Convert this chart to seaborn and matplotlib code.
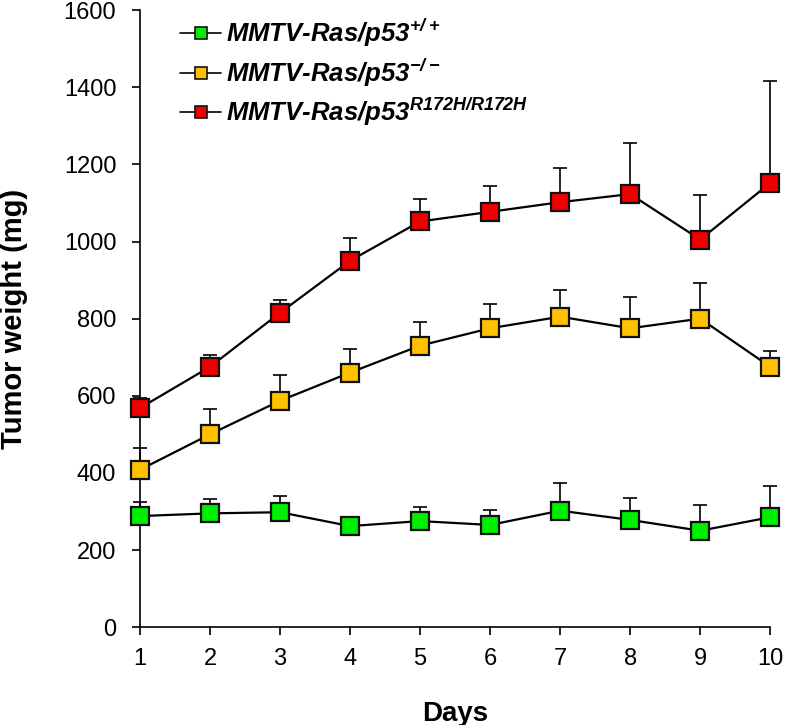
import numpy as np
import pandas as pd
import matplotlib
matplotlib.use('Agg')
import matplotlib.pyplot as plt
import seaborn as sns

days = [1, 2, 3, 4, 5, 6, 7, 8, 9, 10]

# mean tumor weight (mg) and upper error bar (SD) per group
wt_mean = [288, 295, 298, 262, 275, 265, 302, 278, 250, 285]
wt_err = [37, 38, 42, 8, 37, 38, 73, 57, 66, 80]
null_mean = [408, 500, 587, 660, 730, 775, 805, 775, 800, 675]
null_err = [57, 65, 68, 60, 62, 62, 70, 80, 93, 40]
mut_mean = [568, 675, 815, 950, 1052, 1077, 1102, 1123, 1005, 1152]
mut_err = [27, 30, 33, 60, 58, 66, 88, 132, 115, 263]

labels = ['MMTV-Ras/p53$^{\\mathbfit{+/+}}$',
          'MMTV-Ras/p53$^{\\mathbfit{-/-}}$',
          'MMTV-Ras/p53$^{\\mathbfit{R172H/R172H}}$']
colors = ['#00ee00', '#ffc000', '#ee0000']

sns.set_style('white')
plt.rcParams['font.family'] = ['Liberation Sans', 'DejaVu Sans']
plt.rcParams['mathtext.fontset'] = 'custom'
plt.rcParams['mathtext.bfit'] = 'Liberation Sans:italic:bold'
plt.rcParams['mathtext.rm'] = 'Liberation Sans'
plt.rcParams['text.color'] = 'black'
plt.rcParams['axes.labelcolor'] = 'black'
plt.rcParams['xtick.color'] = 'black'
plt.rcParams['ytick.color'] = 'black'

fig = plt.figure(figsize=(7.86, 7.25), dpi=100)
ax = fig.add_axes([0.178, 0.135, 0.802, 0.851])

series = [(wt_mean, wt_err), (null_mean, null_err), (mut_mean, mut_err)]
for (m, e), lab, c in zip(series, labels, colors):
    df = pd.DataFrame({'day': days, 'weight': m})
    eb = ax.errorbar(days, m, yerr=[np.zeros(len(e)), e], fmt='none',
                     ecolor='black', elinewidth=1.2, capsize=5, capthick=1.2, zorder=2)
    for art in eb.lines[1] + eb.lines[2]:
        art.set_clip_on(False)
    sns.lineplot(data=df, x='day', y='weight', ax=ax, color='black', lw=1.6,
                 marker='s', markersize=13, markerfacecolor=c,
                 markeredgecolor='#111111', markeredgewidth=1.6, label=lab,
                 zorder=3, clip_on=False)

ax.set_xlim(1, 10)
ax.set_ylim(0, 1600)
ax.set_xticks(days)
ax.set_yticks(np.arange(0, 1601, 200))
for s in ['top', 'right']:
    ax.spines[s].set_visible(False)
for s in ['left', 'bottom']:
    ax.spines[s].set_color('black')
    ax.spines[s].set_linewidth(1.2)
ax.tick_params(axis='both', direction='out', length=6, width=1.2,
               labelsize=17, left=True, bottom=True)
ax.tick_params(axis='y', pad=11)
ax.tick_params(axis='x', pad=9)
ax.set_xlabel('Days', fontsize=20, fontweight='bold', labelpad=22)
ax.set_ylabel('Tumor weight (mg)', fontsize=21, fontweight='bold', labelpad=26)

leg = ax.legend(loc='upper left', bbox_to_anchor=(0.027, 1.027), frameon=False,
                prop={'size': 18.5, 'weight': 'bold', 'style': 'italic'},
                handlelength=1.6, handletextpad=0.2, labelspacing=0.25)
for h in leg.legend_handles:
    h.set_markersize(8)
    h.set_markeredgewidth(1.2)
    h.set_linewidth(1.2)

fig.savefig('out.png', dpi=100)
